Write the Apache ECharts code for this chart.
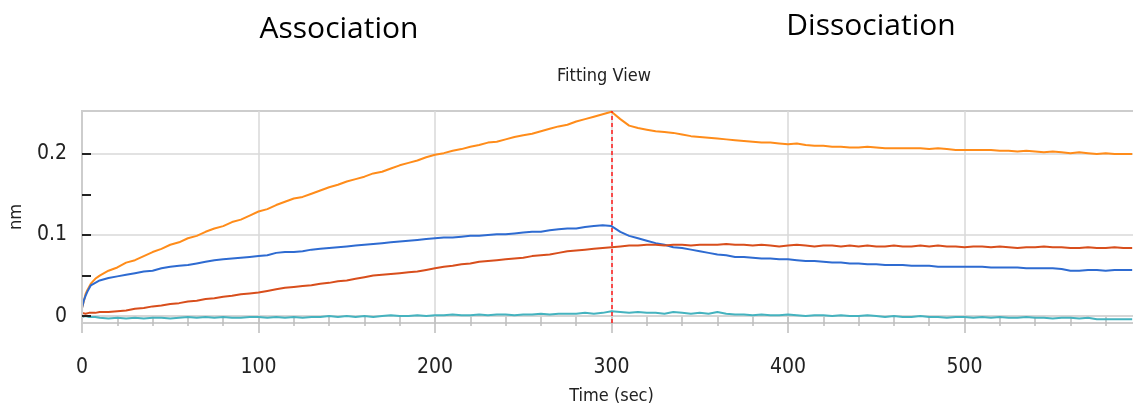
<!DOCTYPE html>
<html>
<head>
<meta charset="utf-8">
<script src="https://cdn.jsdelivr.net/npm/echarts@6/dist/echarts.min.js"></script>
<style>
  html, body { margin: 0; padding: 0; background: #fff; }
  #chart { width: 1133px; height: 409px; }
</style>
</head>
<body>
<div id="chart"></div>
<script>
// Sampling times (s): dense at the start of association, then every 5 s
const timeSec = [
  0, 1, 2, 3, 4, 5, 7.5,
  10, 15, 20, 25, 30, 35, 40, 45, 50, 55,
  60, 65, 70, 75, 80, 85, 90, 95, 100, 105,
  110, 115, 120, 125, 130, 135, 140, 145, 150, 155,
  160, 165, 170, 175, 180, 185, 190, 195, 200, 205,
  210, 215, 220, 225, 230, 235, 240, 245, 250, 255,
  260, 265, 270, 275, 280, 285, 290, 295, 300, 305,
  310, 315, 320, 325, 330, 335, 340, 345, 350, 355,
  360, 365, 370, 375, 380, 385, 390, 395, 400, 405,
  410, 415, 420, 425, 430, 435, 440, 445, 450, 455,
  460, 465, 470, 475, 480, 485, 490, 495, 500, 505,
  510, 515, 520, 525, 530, 535, 540, 545, 550, 555,
  560, 565, 570, 575, 580, 585, 590, 595
];

// Binding response (nm) of each sensor
const orangeNm = [
  0.010, 0.018, 0.027, 0.032, 0.036, 0.040, 0.046,
  0.050, 0.056, 0.060, 0.066, 0.069, 0.074, 0.079, 0.083, 0.088, 0.091,
  0.096, 0.099, 0.104, 0.108, 0.111, 0.116, 0.119, 0.124, 0.129, 0.132,
  0.137, 0.141, 0.145, 0.147, 0.151, 0.155, 0.159, 0.162, 0.166, 0.169,
  0.172, 0.176, 0.178, 0.182, 0.186, 0.189, 0.192, 0.196, 0.199, 0.201,
  0.204, 0.206, 0.209, 0.211, 0.214, 0.215, 0.218, 0.221, 0.223, 0.225,
  0.228, 0.231, 0.234, 0.236, 0.240, 0.243, 0.246, 0.249, 0.252, 0.243,
  0.235, 0.232, 0.230, 0.228, 0.227, 0.226, 0.224, 0.222, 0.221, 0.220,
  0.219, 0.218, 0.217, 0.216, 0.215, 0.214, 0.214, 0.213, 0.212, 0.213,
  0.211, 0.210, 0.210, 0.209, 0.209, 0.208, 0.208, 0.209, 0.208, 0.207,
  0.207, 0.207, 0.207, 0.207, 0.206, 0.207, 0.206, 0.205, 0.205, 0.205,
  0.205, 0.205, 0.204, 0.204, 0.203, 0.204, 0.203, 0.202, 0.203, 0.202,
  0.201, 0.202, 0.201, 0.200, 0.201, 0.200, 0.200, 0.200
];

const blueNm = [
  0.010, 0.019, 0.025, 0.030, 0.034, 0.038, 0.041,
  0.044, 0.047, 0.049, 0.051, 0.053, 0.055, 0.056, 0.059, 0.061, 0.062,
  0.063, 0.065, 0.067, 0.069, 0.070, 0.071, 0.072, 0.073, 0.074, 0.075,
  0.078, 0.079, 0.079, 0.080, 0.082, 0.083, 0.084, 0.085, 0.086, 0.087,
  0.088, 0.089, 0.090, 0.091, 0.092, 0.093, 0.094, 0.095, 0.096, 0.097,
  0.097, 0.098, 0.099, 0.099, 0.100, 0.101, 0.101, 0.102, 0.103, 0.104,
  0.104, 0.106, 0.107, 0.108, 0.108, 0.110, 0.111, 0.112, 0.111, 0.104,
  0.099, 0.096, 0.093, 0.090, 0.088, 0.085, 0.084, 0.082, 0.080, 0.078,
  0.076, 0.075, 0.073, 0.073, 0.072, 0.071, 0.071, 0.070, 0.070, 0.069,
  0.068, 0.068, 0.067, 0.066, 0.066, 0.065, 0.065, 0.064, 0.064, 0.063,
  0.063, 0.063, 0.062, 0.062, 0.062, 0.061, 0.061, 0.061, 0.061, 0.061,
  0.061, 0.060, 0.060, 0.060, 0.060, 0.059, 0.059, 0.059, 0.059, 0.058,
  0.056, 0.056, 0.057, 0.057, 0.056, 0.057, 0.057, 0.057
];

const redNm = [
  0.004, 0.004, 0.003, 0.004, 0.004, 0.004, 0.004,
  0.005, 0.005, 0.006, 0.007, 0.009, 0.010, 0.012, 0.013, 0.015, 0.016,
  0.018, 0.019, 0.021, 0.022, 0.024, 0.025, 0.027, 0.028, 0.029, 0.031,
  0.033, 0.035, 0.036, 0.037, 0.038, 0.040, 0.041, 0.043, 0.044, 0.046,
  0.048, 0.050, 0.051, 0.052, 0.053, 0.054, 0.055, 0.057, 0.059, 0.061,
  0.062, 0.064, 0.065, 0.067, 0.068, 0.069, 0.070, 0.071, 0.072, 0.074,
  0.075, 0.076, 0.078, 0.080, 0.081, 0.082, 0.083, 0.084, 0.085, 0.086,
  0.087, 0.087, 0.088, 0.088, 0.087, 0.088, 0.088, 0.087, 0.088, 0.088,
  0.088, 0.089, 0.088, 0.088, 0.087, 0.088, 0.087, 0.086, 0.087, 0.088,
  0.087, 0.086, 0.087, 0.087, 0.086, 0.087, 0.086, 0.087, 0.086, 0.086,
  0.087, 0.086, 0.086, 0.087, 0.086, 0.087, 0.086, 0.086, 0.085, 0.086,
  0.086, 0.085, 0.086, 0.085, 0.084, 0.085, 0.085, 0.086, 0.085, 0.085,
  0.084, 0.084, 0.085, 0.084, 0.084, 0.085, 0.084, 0.084
];

const cyanNm = [
  -0.001, -0.001, 0.000, -0.002, -0.001, -0.002, -0.001,
  -0.002, -0.003, -0.002, -0.003, -0.002, -0.003, -0.002, -0.002, -0.003, -0.002,
  -0.001, -0.002, -0.001, -0.002, -0.001, -0.002, -0.002, -0.001, -0.001, -0.002,
  -0.001, -0.002, -0.001, -0.002, -0.001, -0.001, 0.000, -0.001, 0.000, -0.001,
  0.000, -0.001, 0.000, 0.001, 0.000, 0.000, 0.001, 0.000, 0.001, 0.001,
  0.002, 0.001, 0.001, 0.002, 0.001, 0.002, 0.002, 0.001, 0.002, 0.002,
  0.003, 0.002, 0.003, 0.003, 0.003, 0.004, 0.003, 0.004, 0.006, 0.005,
  0.004, 0.005, 0.004, 0.004, 0.003, 0.005, 0.004, 0.003, 0.004, 0.003,
  0.005, 0.003, 0.002, 0.002, 0.001, 0.002, 0.001, 0.001, 0.002, 0.001,
  0.000, 0.001, 0.001, 0.000, 0.001, 0.000, 0.000, 0.001, 0.000, -0.001,
  0.000, -0.001, -0.001, 0.000, -0.001, -0.001, -0.002, -0.001, -0.001, -0.002,
  -0.001, -0.002, -0.001, -0.002, -0.002, -0.001, -0.002, -0.002, -0.003, -0.002,
  -0.002, -0.003, -0.002, -0.004, -0.004, -0.004, -0.004, -0.004
];

// Axis ticks and labels
const yLabelValues = [0, 0.1, 0.2];
const yTickValues = [0, 0.05, 0.1, 0.15, 0.2];
const yGridValues = [0, 0.1, 0.2];
const switchTime = 300; // association -> dissociation

const NARROW = '"Liberation Sans Narrow", "DejaVu Sans Condensed", "Arial Narrow", sans-serif';
const pairs = vals => timeSec.map((t, i) => [t, vals[i]]);

const traceSeries = (name, vals, color, extra) => Object.assign({
  name: name,
  type: 'line',
  data: pairs(vals),
  showSymbol: false,
  symbol: 'none',
  z: 3,
  lineStyle: { color: color, width: 2 },
  itemStyle: { color: color }
}, extra || {});

const chart = echarts.init(document.getElementById('chart'), null, { renderer: 'canvas' });

chart.setOption({
  animation: false,
  backgroundColor: '#ffffff',
  textStyle: { fontFamily: NARROW },
  grid: {
    left: 82, top: 111, width: 1059, height: 212,
    show: true, borderColor: '#cdcdcd', borderWidth: 2,
    containLabel: false, outerBoundsMode: 'none'
  },
  graphic: [
    { type: 'text', x: 339, y: 29, silent: true,
      style: { text: 'Association', fontSize: 30, fontFamily: '"Open Sans", sans-serif', fill: '#000', align: 'center', verticalAlign: 'middle' } },
    { type: 'text', x: 871, y: 26, silent: true,
      style: { text: 'Dissociation', fontSize: 30, fontFamily: '"Open Sans", sans-serif', fill: '#000', align: 'center', verticalAlign: 'middle' } },
    { type: 'text', x: 604, y: 76, silent: true,
      style: { text: 'Fitting View', fontSize: 18, fontFamily: NARROW, fill: '#222', align: 'center', verticalAlign: 'middle' } }
  ],
  xAxis: {
    type: 'value', min: 0, max: 600, interval: 100,
    name: 'Time (sec)', nameLocation: 'middle', nameGap: 64,
    nameTextStyle: { fontSize: 18, color: '#222', fontFamily: NARROW },
    axisLine: { show: true, lineStyle: { color: '#cdcdcd', width: 2 } },
    axisTick: { show: true, length: 17, lineStyle: { color: '#bdbdbd', width: 1.5 } },
    minorTick: { show: true, splitNumber: 5, length: 10, lineStyle: { color: '#bdbdbd', width: 1.5 } },
    axisLabel: { margin: 34, fontSize: 21, color: '#222', fontFamily: NARROW, showMaxLabel: false },
    splitLine: { show: true, lineStyle: { color: '#d9d9d9', width: 1.5 } }
  },
  yAxis: {
    type: 'value', min: -0.0085, max: 0.253, z: 4,
    name: 'nm', nameLocation: 'middle', nameGap: 57, nameRotate: 90,
    nameTextStyle: { fontSize: 18, color: '#222', fontFamily: NARROW },
    axisLine: { show: true, lineStyle: { color: '#cdcdcd', width: 2 } },
    axisTick: { show: true, inside: true, length: 9, customValues: yTickValues, lineStyle: { color: '#222', width: 2 } },
    axisLabel: { margin: 15, fontSize: 21, color: '#222', fontFamily: NARROW, customValues: yLabelValues,
                 formatter: v => String(Math.round(v * 10) / 10) },
    splitLine: { show: false }
  },
  series: [
    {
      name: 'grid', type: 'line', data: [], z: 1, silent: true,
      markLine: {
        z: 1, silent: true, symbol: ['none', 'none'], label: { show: false },
        lineStyle: { color: '#d9d9d9', width: 1.5, type: 'solid' },
        emphasis: { disabled: true },
        data: yGridValues.map(v => ({ yAxis: v }))
      }
    },
    traceSeries('Sensor A', orangeNm, '#ff8c1a', {
      markLine: {
        z: 10, silent: true, symbol: ['none', 'none'], label: { show: false },
        lineStyle: { color: '#ff1a1a', width: 1.5, type: [4, 3] },
        emphasis: { disabled: true },
        data: [{ xAxis: switchTime }]
      }
    }),
    traceSeries('Sensor B', blueNm, '#2e6bd1'),
    traceSeries('Sensor C', redNm, '#d84e1c'),
    traceSeries('Sensor D', cyanNm, '#45b3bf')
  ]
});
</script>
</body>
</html>
